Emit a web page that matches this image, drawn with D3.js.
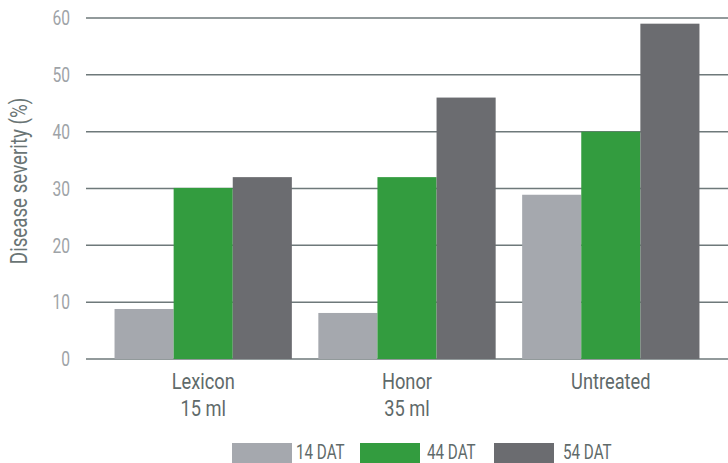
<!DOCTYPE html>
<html>
<head>
<meta charset="utf-8">
<script src="https://cdn.jsdelivr.net/npm/d3@7"></script>
<style>
  body { margin: 0; background: #fff; }
  svg text { font-family: "Roboto", sans-serif; }
</style>
</head>
<body>
<div id="chart"></div>
<script>
// data
var categories = [["Lexicon", "15 ml"], ["Honor", "35 ml"], ["Untreated"]];
var seriesNames = ["14 DAT", "44 DAT", "54 DAT"];
var dat14 = [8.8, 8.1, 28.9];
var dat44 = [30.1, 32, 40];
var dat54 = [32, 46, 59];
var yTicks = [0, 10, 20, 30, 40, 50, 60];
var colors = ["#a5a8ae", "#339c3f", "#6b6c70"];

var width = 728, height = 463;
var margin = { top: 18, right: 0, bottom: 104, left: 86 };
var narrow = 0.78; // reference uses a condensed face

var svg = d3.select("#chart")
	.append("svg")
	.attr("width", width)
	.attr("height", height);

var series = [dat14, dat44, dat54];
var rows = categories.map(function (c, i) {
	return { key: i, label: c, values: series.map(function (s, j) { return { s: j, v: s[i] }; }) };
});

var x0 = d3.scaleBand()
	.domain(rows.map(function (d) { return d.key; }))
	.range([margin.left, width - margin.right])
	.paddingInner(0.13)
	.paddingOuter(0.14);

var x1 = d3.scaleBand()
	.domain(d3.range(series.length))
	.range([0, x0.bandwidth()]);

var y = d3.scaleLinear()
	.domain([0, 60])
	.range([height - margin.bottom, margin.top]);

// gridlines
svg.append("g")
	.selectAll("line")
	.data(yTicks)
	.enter().append("line")
	.attr("x1", margin.left)
	.attr("x2", width)
	.attr("y1", function (d) { return y(d); })
	.attr("y2", function (d) { return y(d); })
	.attr("stroke", "#6e797a")
	.attr("stroke-width", 1.5);

// y tick labels
svg.append("g")
	.selectAll("text")
	.data(yTicks)
	.enter().append("text")
	.attr("transform", function (d) { return "translate(70," + y(d) + ") scale(" + narrow + ",1)"; })
	.attr("dy", "0.36em")
	.attr("text-anchor", "end")
	.attr("fill", "#9ea3a7")
	.style("font-size", "20px")
	.text(function (d) { return d; });

svg.append("text")
	.attr("transform", "translate(27,181) rotate(-90) scale(" + narrow + ",1)")
	.attr("text-anchor", "middle")
	.attr("fill", "#6a7575")
	.style("font-size", "24px")
	.text("Disease severity (%)");

// bars
svg.append("g")
	.selectAll("g")
	.data(rows)
	.enter().append("g")
	.attr("transform", function (d) { return "translate(" + x0(d.key) + ",0)"; })
	.selectAll("rect")
	.data(function (d) { return d.values; })
	.enter().append("rect")
	.attr("x", function (d) { return x1(d.s); })
	.attr("width", x1.bandwidth())
	.attr("y", function (d) { return y(d.v); })
	.attr("height", function (d) { return y(0) - y(d.v); })
	.attr("fill", function (d) { return colors[d.s]; });

// category labels
var cat = svg.append("g")
	.selectAll("text")
	.data(rows)
	.enter().append("text")
	.attr("text-anchor", "middle")
	.attr("fill", "#5f6a6a")
	.style("font-size", "22px")
	.attr("transform", function (d) { return "translate(" + (x0(d.key) + x0.bandwidth() / 2) + ",389) scale(0.83,1)"; });
cat.selectAll("tspan")
	.data(function (d) { return d.label; })
	.enter().append("tspan")
	.attr("x", 0)
	.attr("y", function (d, i) { return i * 27; })
	.text(function (d) { return d; });

// legend
var legX = d3.scaleOrdinal().domain(d3.range(3)).range([232, 360, 494]);
var leg = svg.append("g")
	.selectAll("g")
	.data(seriesNames)
	.enter().append("g")
	.attr("transform", function (d, i) { return "translate(" + legX(i) + ",443)"; });
leg.append("rect")
	.attr("width", 60)
	.attr("height", 20)
	.attr("fill", function (d, i) { return colors[i]; });
leg.append("text")
	.attr("transform", function (d, i) { return "translate(" + (i === 2 ? 69 : (i === 1 ? 67 : 64)) + ",16) scale(" + narrow + ",1)"; })
	.attr("fill", "#5f6a6a")
	.style("font-size", "19.5px")
	.text(function (d) { return d; });
</script>
</body>
</html>
